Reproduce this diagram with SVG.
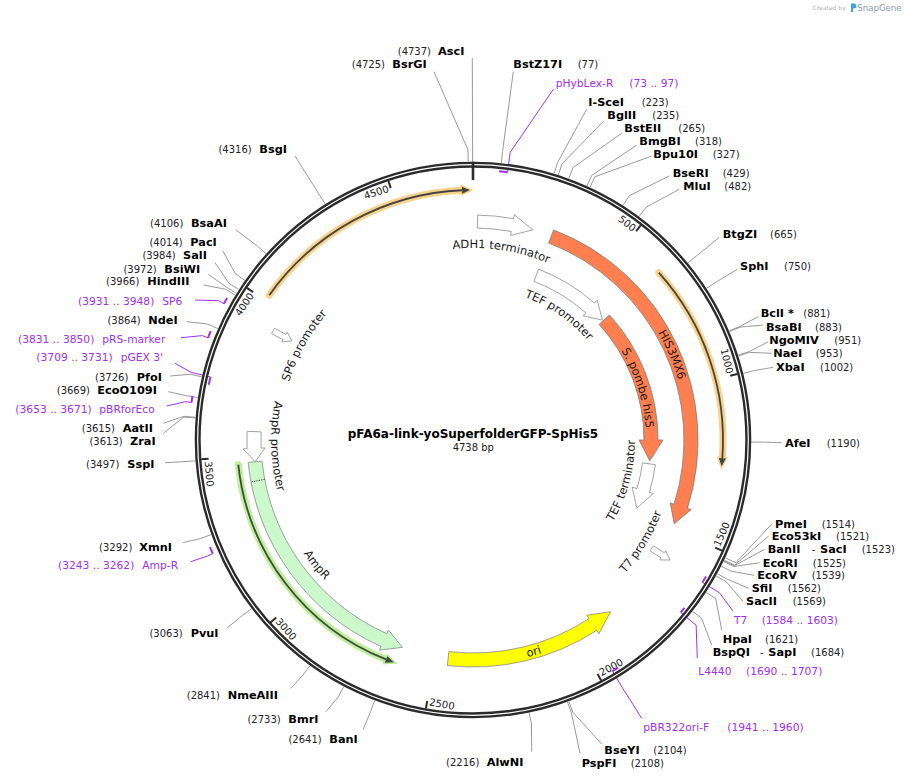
<svg xmlns="http://www.w3.org/2000/svg" width="910" height="780" viewBox="0 0 910 780">
<style>
text{font-family:"DejaVu Sans",Verdana,sans-serif;fill:#222}
.n{font-size:10px}
.b{font-size:11.3px;font-weight:bold;fill:#000}
.pr{font-size:10.7px;fill:#a030f0}
.ft{font-size:11.5px;fill:#1a1a1a}
.tk{font-size:10px;fill:#222}
.ln{fill:none;stroke:#999;stroke-width:1}
.pl{fill:none;stroke:#a030f0;stroke-width:1}
.pm{fill:none;stroke:#a030f0;stroke-width:2}
.wf{fill:#fff;stroke:#8a8a8a;stroke-width:0.8}
.cf{fill:#ff7f50;stroke:#7a7a7a;stroke-width:0.8}
.tick{stroke:#2b2b2b;stroke-width:2}
.oh{fill:none;stroke:#f9c86e;stroke-opacity:0.8;stroke-width:7;stroke-linecap:round}
.gh{fill:none;stroke:#b5ee8e;stroke-opacity:0.9;stroke-width:7;stroke-linecap:round}
.ol{fill:none;stroke:#444;stroke-width:1.8}
</style>
<defs>
<path id="p_adh" d="M358.79,285.66 A192,192 0 0 1 627.34,325.79"/>
<path id="p_tefp" d="M445.30,290.55 A152,152 0 0 1 622.45,412.30"/>
<path id="p_his3" d="M552.47,241.30 A214,214 0 0 1 671.70,519.47"/>
<path id="p_spo" d="M552.88,286.55 A173,173 0 0 1 626.45,519.88"/>
<path id="p_teft" d="M553.54,580.56 A162,162 0 0 0 613.58,359.49"/>
<path id="p_t7" d="M521.18,636.17 A202,202 0 0 0 669.17,391.82"/>
<path id="p_ori" d="M364.40,635.91 A224,224 0 0 0 668.91,548.60"/>
<path id="p_ampr" d="M270.27,417.26 A204,204 0 0 0 450.26,642.73"/>
<path id="p_amppr" d="M325.75,301.72 A202,202 0 0 0 334.72,587.25"/>
<path id="p_sp6" d="M287.29,492.55 A193,193 0 0 1 420.45,254.29"/>
</defs>
<rect width="910" height="780" fill="#fff"/>

<g id="logo">
<text x="812.7" y="9.5" style="font-size:6px;fill:#b0b0b0">Created by</text>
<path d="M851,3.5 h3 a2.5,2.5 0 0 1 0,5 h-1 v3.5 h-2 z" fill="#3fa4de"/>
<text x="857.3" y="10.5" style="font-size:8.6px;fill:#8a9bab">SnapGene</text>
</g>

<g id="connectors">
<polyline class="ln" points="472.3,58 472.6,150 472.6,161.5"/>
<polyline class="ln" points="434,71.7 468.0,150.0 468.2,161.5"/>
<polyline class="ln" points="295,156 319.06,194.23 325.16,203.98"/>
<polyline class="ln" points="236,230 257.43,246.02 265.98,253.71"/>
<polyline class="ln" points="222.7,250.7 235.41,273.71 244.83,280.30"/>
<polyline class="ln" points="215,262.7 229.01,283.26 238.68,289.47"/>
<polyline class="ln" points="208.3,274.3 226.53,287.18 236.30,293.24"/>
<polyline class="ln" points="203.3,285 225.32,289.15 235.14,295.14"/>
<polyline class="ln" points="186.7,321.7 207.24,323.95 217.77,328.56"/>
<polyline class="ln" points="170,376 190.56,374.22 201.76,376.83"/>
<polyline class="ln" points="168.3,391.7 186.40,395.73 197.76,397.49"/>
<polyline class="ln" points="163.3,423.3 183.97,416.34 195.43,417.28"/>
<polyline class="ln" points="163.3,433.3 183.91,417.09 195.37,418.0"/>
<polyline class="ln" points="165,462.7 183.81,461.69 195.28,460.83"/>
<polyline class="ln" points="182.7,542.7 200.27,538.57 211.08,534.66"/>
<polyline class="ln" points="226.7,628.3 242.26,615.66 251.41,608.70"/>
<polyline class="ln" points="290.7,688.3 303.08,675.01 309.82,665.69"/>
<polyline class="ln" points="326,711.7 338.37,696.85 343.71,686.67"/>
<polyline class="ln" points="363.3,729.3 370.65,711.34 374.71,700.58"/>
<polyline class="ln" points="531.7,751.7 531.47,724.04 529.15,712.78"/>
<polyline class="ln" points="580,753.3 571.38,712.80 567.48,701.98"/>
<polyline class="ln" points="601.7,744 572.86,712.27 568.90,701.47"/>
<polyline class="ln" points="513.3,71.7 502.56,151.51 501.38,162.95"/>
<polyline class="ln" points="586.7,109.3 557.51,162.59 554.16,173.59"/>
<polyline class="ln" points="604,120.7 561.93,163.97 558.40,174.92"/>
<polyline class="ln" points="621.7,133.3 572.83,167.72 568.87,178.53"/>
<polyline class="ln" points="636.7,145 591.71,175.41 587.00,185.90"/>
<polyline class="ln" points="651.7,156 594.85,176.84 590.02,187.28"/>
<polyline class="ln" points="669.3,176 629.25,195.69 623.06,205.38"/>
<polyline class="ln" points="679.3,189.3 645.99,207.25 639.13,216.48"/>
<polyline class="ln" points="719.3,237.3 696.83,255.62 687.96,262.93"/>
<polyline class="ln" points="737.3,269.3 716.19,282.01 706.54,288.28"/>
<polyline class="ln" points="758.3,316.7 739.81,326.41 729.23,330.92"/>
<polyline class="ln" points="763.3,325 740.12,327.13 729.53,331.60"/>
<polyline class="ln" points="768.3,341.7 749.21,351.64 738.26,355.14"/>
<polyline class="ln" points="771.7,353.3 749.44,352.37 738.48,355.85"/>
<polyline class="ln" points="773.3,367.3 754.56,370.50 743.39,373.25"/>
<polyline class="ln" points="781.7,442.7 762.99,442.12 751.49,442.03"/>
<polyline class="ln" points="772,523.7 735.77,562.72 725.35,557.85"/>
<polyline class="ln" points="768.7,536 734.60,565.14 724.22,560.18"/>
<polyline class="ln" points="764.7,549.3 734.26,565.84 723.90,560.85"/>
<polyline class="ln" points="759.7,562.7 733.93,566.53 723.58,561.51"/>
<polyline class="ln" points="754.3,575.3 731.54,571.37 721.29,566.16"/>
<polyline class="ln" points="748.7,588.3 727.39,579.20 717.30,573.68"/>
<polyline class="ln" points="743,601.3 726.09,581.55 716.05,575.93"/>
<polyline class="ln" points="721.7,630 715.76,598.66 706.14,592.37"/>
<polyline class="ln" points="711.7,645 701.64,618.38 692.58,611.31"/>
<polyline class="pl" points="195,300 218.6,300.7 223.83,303.71"/>
<polyline class="pl" points="181,337.7 202.44,335.61 208.0,337.87"/>
<polyline class="pl" points="175,363.3 191.01,372.30 210.46,376.97"/>
<polyline class="pl" points="166.7,406 185.55,401.64 191.48,402.56"/>
<polyline class="pl" points="190.7,561.7 207.26,556.10 212.75,553.66"/>
<polyline class="pl" points="553.3,89.3 510.20,152.40 507.64,172.23"/>
<polyline class="pl" points="732.7,610.7 719.47,592.82 702.47,582.28"/>
<polyline class="pl" points="697.3,658.3 696.13,625.24 680.74,612.47"/>
<polyline class="pl" points="641.7,718.3 622.79,688.32 612.46,671.19"/>
</g>

<g id="backbone">
<circle cx="473" cy="440" r="275.3" fill="none" stroke="#2b2b2b" stroke-width="6"/>
<circle cx="473" cy="440" r="275.3" fill="none" stroke="#fff" stroke-width="1.2"/>
<line x1="473" y1="161.7" x2="473" y2="180" stroke="#2b2b2b" stroke-width="2.6"/>
<line class="tick" x1="640.74" y1="225.25" x2="636.12" y2="231.16"/>
<line class="tick" x1="737.39" y1="373.98" x2="730.11" y2="375.80"/>
<line class="tick" x1="722.01" y1="550.69" x2="715.16" y2="547.64"/>
<line class="tick" x1="601.10" y1="680.51" x2="597.57" y2="673.89"/>
<line class="tick" x1="425.91" y1="708.40" x2="427.21" y2="701.01"/>
<line class="tick" x1="270.59" y1="622.44" x2="276.16" y2="617.42"/>
<line class="tick" x1="201.19" y1="459.34" x2="208.67" y2="458.81"/>
<line class="tick" x1="246.88" y1="287.93" x2="253.11" y2="292.12"/>
<line class="tick" x1="388.38" y1="180.97" x2="390.71" y2="188.10"/>
<text class="tk" x="632.47" y="232.13" text-anchor="end" transform="rotate(37.99 632.47 232.13)">500</text>
<text class="tk" x="726.63" y="374.32" text-anchor="end" transform="rotate(75.98 726.63 374.32)">1000</text>
<text class="tk" x="254.35" y="295.67" text-anchor="end" transform="rotate(-56.08 254.35 295.67)">4000</text>
<text class="tk" x="389.48" y="191.67" text-anchor="end" transform="rotate(-18.09 389.48 191.67)">4500</text>
<text class="tk" x="719.73" y="547.14" transform="rotate(-66.03 719.73 547.14)">1500</text>
<text class="tk" x="601.53" y="676.31" transform="rotate(-28.04 601.53 676.31)">2000</text>
<text class="tk" x="428.83" y="705.35" transform="rotate(9.95 428.83 705.35)">2500</text>
<text class="tk" x="274.93" y="622.02" transform="rotate(47.94 274.93 622.02)">3000</text>
<text class="tk" x="204.86" y="461.43" transform="rotate(85.93 204.86 461.43)">3500</text>
</g>

<g id="primer-marks">
<line class="pm" x1="223.83" y1="303.71" x2="227.05" y2="298"/>
<line class="pm" x1="208.0" y1="337.87" x2="210.67" y2="331.19"/>
<line class="pm" x1="191.48" y1="402.56" x2="192.45" y2="395.86"/>
<line class="pm" x1="212.75" y1="553.66" x2="209.96" y2="547.07"/>
<line class="pm" x1="499.11" y1="171.27" x2="507.64" y2="172.23"/>
<line class="pm" x1="706.01" y1="576.40" x2="702.47" y2="582.28"/>
<line class="pm" x1="684.55" y1="607.77" x2="680.74" y2="612.47"/>
<line class="pm" x1="618.16" y1="667.66" x2="612.46" y2="671.19"/>
<line class="pm" x1="208.72" y1="384.69" x2="210.46" y2="376.97"/>
</g>

<g id="orf-orange-1">
<path class="oh" d="M269.22,295.18 A250,250 0 0 1 462.09,190.24"/>
<polygon points="462.25,193.73 469.95,190.02 461.94,186.74" fill="#444" stroke="#f9c86e" stroke-opacity="0.8" stroke-width="3" paint-order="stroke"/>
<path class="ol" d="M269.22,295.18 A250,250 0 0 1 462.09,190.24"/>
</g>
<g id="orf-orange-2">
<path class="oh" d="M658.79,272.72 A250,250 0 0 1 722.33,458.31"/>
<polygon points="718.84,458.05 721.63,466.13 725.82,458.57" fill="#444" stroke="#f9c86e" stroke-opacity="0.8" stroke-width="3" paint-order="stroke"/>
<path class="ol" d="M658.79,272.72 A250,250 0 0 1 722.33,458.31"/>
</g>
<g id="orf-green">
<path class="gh" d="M238.29,464.67 A236,236 0 0 0 386.12,659.43"/>
<polygon points="387.41,656.17 393.83,662.33 384.84,662.68" fill="#444" stroke="#b5ee8e" stroke-width="3" paint-order="stroke"/>
<path class="ol" d="M238.29,464.67 A236,236 0 0 0 386.12,659.43"/>
</g>

<g id="feat-ADH1-terminator">
<path class="wf" d="M477.71,215.05 A225,225 0 0 1 513.62,218.70 L514.34,214.76 L532.86,229.86 L510.55,235.42 L511.27,231.48 A212,212 0 0 0 477.44,228.05 Z"/>
<text class="ft"><textPath href="#p_adh" startOffset="50%" text-anchor="middle">ADH1 terminator</textPath></text>
</g>
<g id="feat-HIS3MX6">
<path class="cf" d="M553.63,229.94 A225,225 0 0 1 687.35,508.41 L691.16,509.62 L674.26,523.78 L670.20,502.93 L674.01,504.15 A211,211 0 0 0 548.62,243.01 Z"/>
<text class="ft"><textPath href="#p_his3" startOffset="50%" text-anchor="middle">HIS3MX6</textPath></text>
</g>
<g id="feat-TEF-promoter">
<path class="wf" d="M538.58,269.15 A183,183 0 0 1 594.50,303.15 L597.15,300.16 L602.50,320.08 L583.21,315.87 L585.87,312.87 A170,170 0 0 0 533.92,281.29 Z"/>
<text class="ft"><textPath href="#p_tefp" startOffset="50%" text-anchor="middle">TEF promoter</textPath></text>
</g>
<g id="feat-S-pombe-his5">
<path class="cf" d="M609.40,315.02 A185,185 0 0 1 658,440 L663,440 L649.78,460.77 L639,440 L644,440 A171,171 0 0 0 599.08,324.47 Z"/>
<text class="ft"><textPath href="#p_spo" startOffset="50%" text-anchor="middle">S. pombe his5</textPath></text>
</g>
<g id="feat-TEF-terminator">
<path class="wf" d="M655.34,464.65 A184,184 0 0 1 649.42,492.26 L653.26,493.40 L636.87,508.21 L632.16,487.15 L636.96,488.57 A171,171 0 0 0 642.46,462.91 Z"/>
<text class="ft"><textPath href="#p_teft" startOffset="50%" text-anchor="middle">TEF terminator</textPath></text>
</g>
<g id="feat-T7-promoter">
<path class="wf" d="M650.08,550.83 L661.04,557.84 L659.70,559.95 L670,560 L665.62,550.67 L664.28,552.78 L653.32,545.77 Z"/>
<text class="ft"><textPath href="#p_t7" startOffset="50%" text-anchor="middle">T7 promoter</textPath></text>
</g>
<g id="feat-ori">
<path d="M447.30,665.54 A227,227 0 0 0 596.63,630.38 L598.81,633.73 L610.55,611.69 L586.83,615.28 L589.01,618.64 A213,213 0 0 1 448.89,651.63 Z" fill="#ffff00" stroke="#888" stroke-width="0.8"/>
<text class="ft"><textPath href="#p_ori" startOffset="50%" text-anchor="middle">ori</textPath></text>
</g>
<g id="feat-AmpR">
<path d="M248.12,462.45 A226,226 0 0 0 381.08,646.46 L379.45,650.12 L402.42,647.32 L388.40,630.02 L386.77,633.67 A212,212 0 0 1 262.05,461.06 Z" fill="#ccf9cc" stroke="#888" stroke-width="0.8"/>
<line x1="264.69" y1="479.36" x2="250.93" y2="481.96" stroke="#333" stroke-width="1" stroke-dasharray="1.2,1.2"/>
<text class="ft"><textPath href="#p_ampr" startOffset="50%" text-anchor="middle">AmpR</textPath></text>
</g>
<g id="feat-AmpR-promoter">
<path class="wf" d="M247.17,431.32 A226,226 0 0 0 247.17,448.68 L243.17,448.83 L255.08,461.75 L265.15,447.99 L261.16,448.14 A212,212 0 0 1 261.16,431.86 Z"/>
<text class="ft"><textPath href="#p_amppr" startOffset="50%" text-anchor="middle">AmpR promoter</textPath></text>
</g>
<g id="feat-SP6-promoter">
<path class="wf" d="M271.6,333.65 L283.1,339.7 L281.9,341.9 L292,341 L287.1,332.1 L285.9,334.3 L274.4,328.35 Z"/>
<text class="ft"><textPath href="#p_sp6" startOffset="50%" text-anchor="middle">SP6 promoter</textPath></text>
</g>

<g id="title">
<text x="473" y="438" text-anchor="middle" style="font-size:12px;font-weight:bold;fill:#000">pFA6a-link-yoSuperfolderGFP-SpHis5</text>
<text x="473.3" y="451" text-anchor="middle" class="n">4738 bp</text>
</g>

<g id="labels-left">
<g id="enz-AscI"><text class="n" x="431" y="55" text-anchor="end">(4737)</text><text class="b" x="438" y="55">AscI</text></g>
<g id="enz-BsrGI"><text class="n" x="385" y="67.5" text-anchor="end">(4725)</text><text class="b" x="392.3" y="67.5">BsrGI</text></g>
<g id="enz-BsgI"><text class="n" x="251.7" y="152.7" text-anchor="end">(4316)</text><text class="b" x="259.3" y="152.7">BsgI</text></g>
<g id="enz-BsaAI"><text class="n" x="183.3" y="227.3" text-anchor="end">(4106)</text><text class="b" x="191" y="227.3">BsaAI</text></g>
<g id="enz-PacI"><text class="n" x="182.7" y="246" text-anchor="end">(4014)</text><text class="b" x="190.3" y="246">PacI</text></g>
<g id="enz-SalI"><text class="n" x="175.7" y="259.3" text-anchor="end">(3984)</text><text class="b" x="183" y="259.3">SalI</text></g>
<g id="enz-BsiWI"><text class="n" x="156.7" y="272.7" text-anchor="end">(3972)</text><text class="b" x="164.3" y="272.7">BsiWI</text></g>
<g id="enz-HindIII"><text class="n" x="139.3" y="285.3" text-anchor="end">(3966)</text><text class="b" x="147.3" y="285.3">HindIII</text></g>
<g id="primer-SP6"><text class="pr" x="154.3" y="304.5" text-anchor="end">(3931 .. 3948)</text><text class="pr" x="162.3" y="304.5">SP6</text></g>
<g id="enz-NdeI"><text class="n" x="140.7" y="324" text-anchor="end">(3864)</text><text class="b" x="148.3" y="324">NdeI</text></g>
<g id="primer-pRS-marker"><text class="pr" x="94.3" y="342.7" text-anchor="end">(3831 .. 3850)</text><text class="pr" x="102.3" y="342.7">pRS-marker</text></g>
<g id="primer-pGEX3"><text class="pr" x="112.7" y="361" text-anchor="end">(3709 .. 3731)</text><text class="pr" x="120.7" y="361">pGEX 3'</text></g>
<g id="enz-PfoI"><text class="n" x="128.3" y="381" text-anchor="end">(3726)</text><text class="b" x="136.7" y="381">PfoI</text></g>
<g id="enz-EcoO109I"><text class="n" x="90" y="394" text-anchor="end">(3669)</text><text class="b" x="97.3" y="394">EcoO109I</text></g>
<g id="primer-pBRforEco"><text class="pr" x="91.7" y="413" text-anchor="end">(3653 .. 3671)</text><text class="pr" x="99.3" y="413">pBRforEco</text></g>
<g id="enz-AatII"><text class="n" x="115" y="432" text-anchor="end">(3615)</text><text class="b" x="122.7" y="432">AatII</text></g>
<g id="enz-ZraI"><text class="n" x="122.7" y="445" text-anchor="end">(3613)</text><text class="b" x="130" y="445">ZraI</text></g>
<g id="enz-SspI"><text class="n" x="119.3" y="467.7" text-anchor="end">(3497)</text><text class="b" x="127.3" y="467.7">SspI</text></g>
<g id="enz-XmnI"><text class="n" x="132.3" y="550.7" text-anchor="end">(3292)</text><text class="b" x="139.3" y="550.7">XmnI</text></g>
<g id="primer-Amp-R"><text class="pr" x="134.3" y="569.3" text-anchor="end">(3243 .. 3262)</text><text class="pr" x="142.3" y="569.3">Amp-R</text></g>
<g id="enz-PvuI"><text class="n" x="182.7" y="637.3" text-anchor="end">(3063)</text><text class="b" x="190.7" y="637.3">PvuI</text></g>
<g id="enz-NmeAIII"><text class="n" x="220" y="699" text-anchor="end">(2841)</text><text class="b" x="227.7" y="699">NmeAIII</text></g>
<g id="enz-BmrI"><text class="n" x="280.7" y="723.3" text-anchor="end">(2733)</text><text class="b" x="288.3" y="723.3">BmrI</text></g>
<g id="enz-BanI"><text class="n" x="321.7" y="742.7" text-anchor="end">(2641)</text><text class="b" x="329.3" y="742.7">BanI</text></g>
<g id="enz-AlwNI"><text class="n" x="479.3" y="766" text-anchor="end">(2216)</text><text class="b" x="486.7" y="766">AlwNI</text></g>
</g>

<g id="labels-right">
<g id="enz-BstZ17I"><text class="b" x="513.3" y="68">BstZ17I</text><text class="n" x="577.7" y="68">(77)</text></g>
<g id="primer-pHybLex-R"><text class="pr" x="555.7" y="86.7">pHybLex-R</text><text class="pr" x="629.3" y="86.7">(73 .. 97)</text></g>
<g id="enz-I-SceI"><text class="b" x="588.3" y="106">I-SceI</text><text class="n" x="641.7" y="106">(223)</text></g>
<g id="enz-BglII"><text class="b" x="607.3" y="119.3">BglII</text><text class="n" x="652.3" y="119.3">(235)</text></g>
<g id="enz-BstEII"><text class="b" x="624.3" y="132.3">BstEII</text><text class="n" x="678.3" y="132.3">(265)</text></g>
<g id="enz-BmgBI"><text class="b" x="639.3" y="145">BmgBI</text><text class="n" x="695" y="145">(318)</text></g>
<g id="enz-Bpu10I"><text class="b" x="653.3" y="158.3">Bpu10I</text><text class="n" x="712.7" y="158.3">(327)</text></g>
<g id="enz-BseRI"><text class="b" x="672.7" y="177.3">BseRI</text><text class="n" x="722.7" y="177.3">(429)</text></g>
<g id="enz-MluI"><text class="b" x="683.3" y="190">MluI</text><text class="n" x="724.3" y="190">(482)</text></g>
<g id="enz-BtgZI"><text class="b" x="722.7" y="238.3">BtgZI</text><text class="n" x="770" y="238.3">(665)</text></g>
<g id="enz-SphI"><text class="b" x="740" y="270">SphI</text><text class="n" x="784" y="270">(750)</text></g>
<g id="enz-BclI"><text class="b" x="760.7" y="317.3">BclI *</text><text class="n" x="803.3" y="317.3">(881)</text></g>
<g id="enz-BsaBI"><text class="b" x="766" y="330.7">BsaBI</text><text class="n" x="815" y="330.7">(883)</text></g>
<g id="enz-NgoMIV"><text class="b" x="769.3" y="344.3">NgoMIV</text><text class="n" x="834.3" y="344.3">(951)</text></g>
<g id="enz-NaeI"><text class="b" x="773.3" y="357.3">NaeI</text><text class="n" x="815.7" y="357.3">(953)</text></g>
<g id="enz-XbaI"><text class="b" x="776" y="371.3">XbaI</text><text class="n" x="820" y="371.3">(1002)</text></g>
<g id="enz-AfeI"><text class="b" x="785" y="447">AfeI</text><text class="n" x="826.7" y="447">(1190)</text></g>
<g id="enz-PmeI"><text class="b" x="775" y="527.7">PmeI</text><text class="n" x="821.7" y="527.7">(1514)</text></g>
<g id="enz-Eco53kI"><text class="b" x="771.7" y="540">Eco53kI</text><text class="n" x="836" y="540">(1521)</text></g>
<g id="enz-BanII-SacI"><text class="b" x="767.7" y="553.3">BanII</text><text class="n" x="811.7" y="553.3">-</text><text class="b" x="820" y="553.3">SacI</text><text class="n" x="861.7" y="553.3">(1523)</text></g>
<g id="enz-EcoRI"><text class="b" x="762.7" y="566.7">EcoRI</text><text class="n" x="812.7" y="566.7">(1525)</text></g>
<g id="enz-EcoRV"><text class="b" x="757.3" y="579.3">EcoRV</text><text class="n" x="811.7" y="579.3">(1539)</text></g>
<g id="enz-SfiI"><text class="b" x="751.7" y="592.3">SfiI</text><text class="n" x="787.7" y="592.3">(1562)</text></g>
<g id="enz-SacII"><text class="b" x="746" y="605.3">SacII</text><text class="n" x="792.7" y="605.3">(1569)</text></g>
<g id="primer-T7"><text class="pr" x="734" y="624">T7</text><text class="pr" x="761.7" y="624">(1584 .. 1603)</text></g>
<g id="enz-HpaI"><text class="b" x="722.7" y="643.3">HpaI</text><text class="n" x="765" y="643.3">(1621)</text></g>
<g id="enz-BspQI-SapI"><text class="b" x="712.7" y="656">BspQI</text><text class="n" x="760" y="656">-</text><text class="b" x="768.3" y="656">SapI</text><text class="n" x="811" y="656">(1684)</text></g>
<g id="primer-L4440"><text class="pr" x="698.3" y="675">L4440</text><text class="pr" x="746" y="675">(1690 .. 1707)</text></g>
<g id="primer-pBR322ori-F"><text class="pr" x="643.3" y="730.7">pBR322ori-F</text><text class="pr" x="727.3" y="730.7">(1941 .. 1960)</text></g>
<g id="enz-BseYI"><text class="b" x="604.3" y="754">BseYI</text><text class="n" x="653.3" y="754">(2104)</text></g>
<g id="enz-PspFI"><text class="b" x="581.7" y="766.7">PspFI</text><text class="n" x="630.7" y="766.7">(2108)</text></g>
</g>
</svg>
